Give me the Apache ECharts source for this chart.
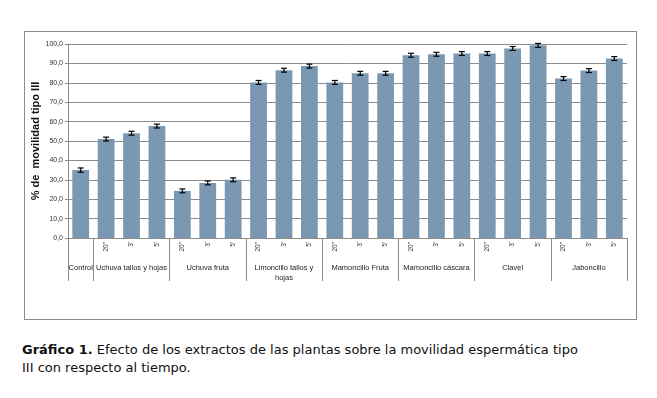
<!DOCTYPE html>
<html>
<head>
<meta charset="utf-8">
<script src="https://cdn.jsdelivr.net/npm/echarts@6/dist/echarts.min.js"></script>
<style>
  body { margin: 0; background: #fff; }
  .box { position: absolute; left: 24px; top: 31px; width: 611px; height: 287px; border: 1px solid #8c8c8c; }
  #chart { width: 611px; height: 287px; }
  .caption { position: absolute; left: 22px; top: 341px; width: 560px; font-family: 'DejaVu Sans', Verdana, sans-serif; font-size: 13px; line-height: 18px; color: #111; }
</style>
</head>
<body>
<div class="box"><div id="chart"></div></div>
<div class="caption"><b>Gráfico 1.</b> Efecto de los extractos de las plantas sobre la movilidad espermática tipo III con respecto al tiempo.</div>
<script>
// etiquetas de tiempo por barra
var tiempos = ['', '20"', "3'", "5'", '20"', "3'", "5'", '20"', "3'", "5'", '20"', "3'", "5'",
  '20"', "3'", "5'", '20"', "3'", "5'", '20"', "3'", "5'"]
// grupos (nombre, primera barra, numero de barras)
var grupos = ['Control', 'Uchuva tallos y hojas', 'Uchuva fruta', 'Limoncillo tallos y\nhojas',
  'Mamoncillo Fruta', 'Mamoncillo cáscara', 'Clavel', 'Jaboncillo']
var inicioGrupo = [0, 1, 4, 7, 10, 13, 16, 19]
var tamGrupo = [1, 3, 3, 3, 3, 3, 3, 3]
// % movilidad tipo III
var valores = [35.0, 51.0, 54.0, 57.7, 24.3, 28.4, 30.0, 80.2, 86.5, 88.6, 80.2, 84.9, 84.9,
  94.2, 94.7, 95.1, 95.1, 97.7, 99.3, 82.2, 86.3, 92.5]
var errores = [1.1, 1.0, 1.0, 1.0, 1.0, 1.0, 1.0, 1.0, 1.0, 1.0, 1.0, 1.0, 1.0,
  1.0, 1.0, 1.0, 1.0, 1.0, 1.0, 1.0, 1.0, 1.0]
var yTicks = [0, 10, 20, 30, 40, 50, 60, 70, 80, 90, 100]

var bordes = inicioGrupo.concat([valores.length])
var centros = inicioGrupo.map(function (s, i) { return s + tamGrupo[i] / 2 })

var myChart = echarts.init(document.getElementById('chart'))
var option = {
  animation: false,
  grid: { left: 43, right: 9, top: 12, bottom: 81, outerBoundsMode: 'none', containLabel: false },
  xAxis: [
    {
      type: 'category',
      data: tiempos,
      axisLine: { lineStyle: { color: '#8c8c8c' } },
      axisTick: { interval: 0, length: 18, lineStyle: { color: '#8c8c8c' } },
      axisLabel: {
        interval: 0, rotate: 90, margin: 4, fontSize: 6.5, color: '#333',
        fontFamily: 'Liberation Sans, Arial, sans-serif'
      }
    },
    {
      type: 'value',
      position: 'bottom',
      min: 0,
      max: valores.length,
      axisLine: { show: false },
      splitLine: { show: false },
      axisTick: { show: true, customValues: bordes, length: 43, lineStyle: { color: '#8c8c8c' } },
      axisLabel: {
        customValues: centros,
        margin: 25,
        fontSize: 7.5,
        lineHeight: 10,
        color: '#222',
        fontFamily: 'Liberation Sans Narrow, Liberation Sans, Arial, sans-serif',
        verticalAlign: 'top',
        formatter: function (v) {
          var i = centros.indexOf(v)
          return i >= 0 ? grupos[i] : ''
        }
      }
    }
  ],
  yAxis: {
    type: 'value',
    min: 0,
    max: 100,
    interval: 10,
    name: '% de  movilidad tipo III',
    nameLocation: 'middle',
    nameGap: 27,
    nameMoveOverlap: false,
    nameTextStyle: { fontSize: 11, fontWeight: 'bold', color: '#111', fontFamily: 'Liberation Sans, Arial, sans-serif' },
    axisLine: { show: true, lineStyle: { color: '#8c8c8c' } },
    axisTick: { show: true, length: 3, lineStyle: { color: '#8c8c8c' } },
    axisLabel: {
      fontSize: 7, color: '#333', margin: 5,
      fontFamily: 'Liberation Sans, Arial, sans-serif',
      formatter: function (v) { return yTicks.indexOf(v) >= 0 ? v.toFixed(1).replace('.', ',') : '' }
    },
    splitLine: { lineStyle: { color: '#8c8c8c', width: 1 } }
  },
  series: [
    {
      type: 'bar',
      data: valores,
      barCategoryGap: '34%',
      itemStyle: { color: '#7b98b3' }
    },
    {
      type: 'custom',
      data: valores.map(function (v, i) { return [i, v - errores[i], v + errores[i]] }),
      z: 10,
      renderItem: function (params, api) {
        var lo = api.coord([api.value(0), api.value(1)])
        var hi = api.coord([api.value(0), api.value(2)])
        var w = 3
        var style = { stroke: '#000', lineWidth: 1.2 }
        return {
          type: 'group',
          children: [
            { type: 'line', shape: { x1: hi[0], y1: hi[1], x2: lo[0], y2: lo[1] }, style: style },
            { type: 'line', shape: { x1: hi[0] - w, y1: hi[1], x2: hi[0] + w, y2: hi[1] }, style: style },
            { type: 'line', shape: { x1: lo[0] - w, y1: lo[1], x2: lo[0] + w, y2: lo[1] }, style: style }
          ]
        }
      }
    }
  ]
}
option && myChart.setOption(option)
</script>
</body>
</html>
